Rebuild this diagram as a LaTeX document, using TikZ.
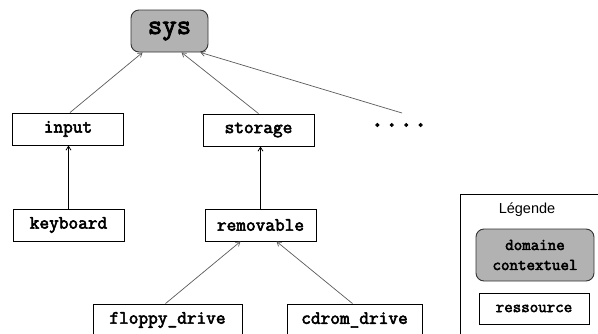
\documentclass[tikz,border=0pt]{standalone}
\usepackage{fontspec}
\setmainfont{Liberation Sans}
\setmonofont{Latin Modern Mono}[AutoFakeBold=3]
\usetikzlibrary{arrows.meta}
\definecolor{boxgray}{RGB}{178,178,178}
\definecolor{arrgray}{RGB}{90,90,90}
\tikzset{
  res/.style={draw=black, line width=0.9pt, fill=white, minimum height=32pt, inner sep=0pt,
    font=\ttfamily\bfseries\fontsize{18.8}{20}\selectfont},
  dom/.style={draw=black!80, line width=0.9pt, fill=boxgray, rounded corners=8pt, inner sep=0pt},
  arr/.style={draw=arrgray, line width=0.7pt, -{Straight Barb[length=4pt,width=5pt]}},
  varr/.style={draw=black, line width=0.8pt, -{Straight Barb[length=4pt,width=5pt]}},
}
\begin{document}
\begin{tikzpicture}[x=1pt,y=-1pt]
\useasboundingbox (0,0) rectangle (598,333);
\clip (0,0) rectangle (598,333);
% top domain
\node[dom, minimum width=77pt, minimum height=42pt,
  font=\ttfamily\bfseries\fontsize{28}{30}\selectfont] (sys) at (169.5,31) {sys\hspace{6pt}};
% level 1
\node[res, minimum width=111pt] (input) at (68,129) {input\hspace{12pt}};
\node[res, minimum width=111pt] (storage) at (258.5,130) {storage\hspace{14pt}};
\node[font=\ttfamily\bfseries\fontsize{28}{30}\selectfont, inner sep=0pt] (dots) at (399,125) {....};
\coordinate (dotsfoot) at (402,113);
% level 2
\node[res, minimum width=111pt] (keyboard) at (68.5,225) {keyboard\hspace{14pt}};
\node[res, minimum width=111pt] (removable) at (260.5,225) {removable\hspace{10pt}};
% level 3
\node[res, minimum width=149pt, minimum height=32pt] (floppy) at (167.5,320) {floppy\_drive\hspace{13pt}};
\node[res, minimum width=135pt, minimum height=32pt] (cdrom) at (354.5,320) {cdrom\_drive\hspace{12pt}};
% arrows
\draw[arr] ([xshift=2pt]input.north) -- ([xshift=12pt]sys.south west);
\draw[arr] (storage.north) -- ([xshift=51pt]sys.south west);
\draw[arr] (dotsfoot) -- ([xshift=-8pt]sys.south east);
\draw[varr] (keyboard.north) -- (keyboard.north |- input.south);
\draw[varr] (removable.north) -- (removable.north |- storage.south);
\draw[arr] ([xshift=-2pt]floppy.north) -- ([xshift=-20pt]removable.south);
\draw[arr] ([xshift=-2pt]cdrom.north) -- ([xshift=16pt]removable.south);
% legend
\node[draw=black, line width=0.8pt, minimum width=138pt, minimum height=150pt, inner sep=0pt, anchor=north west] (legend) at (460,194) {};
\node[font=\fontsize{14.5}{16}\selectfont, inner sep=0pt] (legtitle) at (527,210) {Légende};
\node[dom, minimum width=118pt, minimum height=52pt, align=center,
  font=\ttfamily\bfseries\fontsize{16.5}{20}\selectfont] (legdom) at (535,255) {domaine\hspace{14pt}\\contextuel\hspace{14pt}};
\node[res, minimum width=110pt, minimum height=31pt,
  font=\ttfamily\bfseries\fontsize{16.5}{18}\selectfont] (legres) at (534,308.5) {ressource\hspace{16pt}};
\end{tikzpicture}
\end{document}
